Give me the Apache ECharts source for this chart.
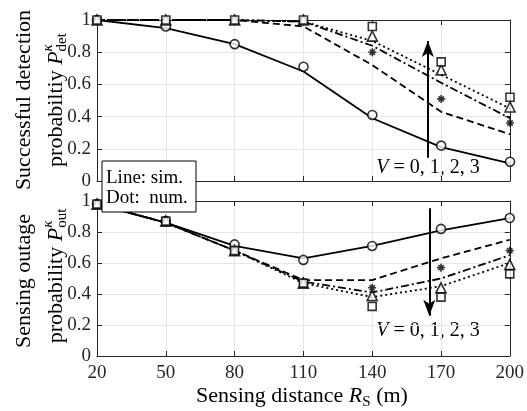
<!DOCTYPE html>
<html>
<head>
<meta charset="utf-8">
<script src="https://cdn.jsdelivr.net/npm/echarts@6/dist/echarts.min.js"></script>
<style>
  html, body { margin: 0; padding: 0; background: #fff; }
  #chart { width: 527px; height: 411px; }
</style>
</head>
<body>
<div id="chart"></div>
<script>
// sensing distance R_S (m)
var distances = [20, 50, 80, 110, 140, 170, 200];

// successful detection probability, lines = simulation, V = 0..3
var detSim0 = [1.00, 0.95, 0.85, 0.68, 0.39, 0.21, 0.11];
var detSim1 = [1.00, 1.00, 1.00, 0.96, 0.72, 0.43, 0.29];
var detSim2 = [1.00, 1.00, 1.00, 0.99, 0.84, 0.61, 0.39];
var detSim3 = [1.00, 1.00, 1.00, 0.99, 0.87, 0.66, 0.45];
// dots = numerical
var detNum0 = [1.00, 0.96, 0.85, 0.71, 0.41, 0.22, 0.12];
var detNum1 = [1.00, 1.00, 1.00, 0.99, 0.80, 0.51, 0.36];
var detNum2 = [1.00, 1.00, 1.00, 1.00, 0.90, 0.69, 0.46];
var detNum3 = [1.00, 1.00, 1.00, 1.00, 0.96, 0.74, 0.52];

// sensing outage probability
var outSim0 = [0.98, 0.86, 0.71, 0.63, 0.71, 0.81, 0.89];
var outSim1 = [0.98, 0.86, 0.68, 0.49, 0.49, 0.63, 0.75];
var outSim2 = [0.98, 0.86, 0.68, 0.48, 0.41, 0.50, 0.65];
var outSim3 = [0.98, 0.86, 0.68, 0.47, 0.38, 0.45, 0.60];
var outNum0 = [0.98, 0.87, 0.72, 0.62, 0.71, 0.82, 0.89];
var outNum1 = [0.98, 0.87, 0.68, 0.48, 0.44, 0.57, 0.68];
var outNum2 = [0.98, 0.87, 0.68, 0.47, 0.39, 0.44, 0.59];
var outNum3 = [0.98, 0.87, 0.68, 0.47, 0.32, 0.38, 0.53];

var yTicks = [0, 0.2, 0.4, 0.6, 0.8, 1];

var serif = '"Liberation Serif", "DejaVu Serif", serif';
var axisColor = '#262626';
var x0 = distances[0]; // x axis is shifted so that min is 0 (ticks every 30)

var lineTypes = ['solid', [7, 4], [8, 3, 2, 3], [2, 3]];
var asterisk = 'path://M4,0L6,0L6,10L4,10Z M0,4L10,4L10,6L0,6Z M1,2.4L2.4,1L9,7.6L7.6,9Z M7.6,1L9,2.4L2.4,9L1,7.6Z';
var markers = ['circle', asterisk, 'triangle', 'rect'];
var markerSizes = [9, 8, 10, 8];

function pairs(vals) {
  return vals.map(function (v, i) { return [distances[i] - x0, v]; });
}

function simLine(vals, v, g) {
  return {
    type: 'line', xAxisIndex: g, yAxisIndex: g, data: pairs(vals),
    symbol: 'none', silent: true, z: 3,
    lineStyle: { color: '#000', width: 1.8, type: lineTypes[v] }
  };
}

function numDots(vals, v, g) {
  return {
    type: 'scatter', xAxisIndex: g, yAxisIndex: g, data: pairs(vals),
    symbol: markers[v], symbolSize: markerSizes[v], silent: true, z: 4,
    itemStyle: {
      color: v === 1 ? '#000' : '#fff',
      borderColor: '#000',
      borderWidth: v === 1 ? 0 : 1.6
    }
  };
}

function xAxisFor(g, pos, labels) {
  return {
    type: 'value', gridIndex: g, position: pos, min: 0, max: 180, interval: 30,
    axisLine: { show: true, onZero: false, lineStyle: { color: axisColor, width: 1 } },
    axisTick: { show: true, inside: true, length: 5, lineStyle: { color: axisColor } },
    axisLabel: { show: labels, margin: 8, color: axisColor, fontFamily: serif, fontSize: 19,
      formatter: function (v) { return String(v + x0); } },
    splitLine: { show: pos === 'bottom', lineStyle: { color: '#e6e6e6', width: 1 } }
  };
}

function yAxisFor(g, pos) {
  return {
    type: 'value', gridIndex: g, position: pos, min: yTicks[0], max: yTicks[yTicks.length - 1], interval: 0.2,
    axisLine: { show: true, onZero: false, lineStyle: { color: axisColor, width: 1 } },
    axisTick: { show: true, inside: true, length: 5, lineStyle: { color: axisColor } },
    axisLabel: { show: pos === 'left', margin: 6, color: axisColor, fontFamily: serif, fontSize: 19 },
    splitLine: { show: pos === 'left', lineStyle: { color: '#e6e6e6', width: 1 } }
  };
}

// text measuring for the hand-set labels with sub/superscripts
var mctx = document.createElement('canvas').getContext('2d');
function tw(str, font) { mctx.font = font; return mctx.measureText(str).width; }

function fnt(size, italic) { return (italic ? 'italic ' : '') + size + 'px ' + serif; }

// parts: {t, size, italic, dy, stack}  stack=true -> same x as previous part
function textRow(cx, cy, parts, rotate) {
  var x = 0, lastX = 0, children = [];
  parts.forEach(function (p) {
    var f = fnt(p.size, p.italic);
    var w = tw(p.t, f);
    var px;
    if (p.stack) { px = lastX; x = Math.max(x, lastX + w); }
    else { px = x; lastX = x; x = x + w; }
    children.push({ type: 'text', x: px, y: p.dy || 0,
      style: { text: p.t, font: f, fill: '#000', textAlign: 'left', textVerticalAlign: 'middle' } });
  });
  children.forEach(function (c) { c.x -= x / 2; });
  return { type: 'group', x: cx, y: cy, rotation: rotate ? Math.PI / 2 : 0, children: children, z: 100 };
}

var graphics = [
  textRow(24, 100, [{ t: 'Successful detection', size: 22 }], true),
  textRow(56, 100, [
    { t: 'probabiltiy ', size: 22 },
    { t: 'P', size: 22, italic: true },
    { t: '\u03ba', size: 15, italic: true, dy: -8 },
    { t: 'det', size: 15, dy: 6, stack: true }
  ], true),
  textRow(24, 281, [{ t: 'Sensing outage', size: 22 }], true),
  textRow(56, 276, [
    { t: 'probability ', size: 22 },
    { t: 'P', size: 22, italic: true },
    { t: '\u03ba', size: 15, italic: true, dy: -8 },
    { t: 'out', size: 15, dy: 6, stack: true }
  ], true),
  textRow(302, 396, [
    { t: 'Sensing distance ', size: 22 },
    { t: 'R', size: 22, italic: true },
    { t: 'S', size: 15, dy: 6 },
    { t: ' (m)', size: 22 }
  ], false),
  textRow(428, 168, [{ t: 'V', size: 20, italic: true }, { t: ' = 0, 1, 2, 3', size: 20 }], false),
  textRow(428, 331, [{ t: 'V', size: 20, italic: true }, { t: ' = 0, 1, 2, 3', size: 20 }], false),
  {
    type: 'rect', z: 99, shape: { x: 102, y: 161, width: 94, height: 51 },
    style: { fill: '#fff', stroke: '#000', lineWidth: 1 }
  },
  { type: 'text', z: 100, x: 106, y: 178,
    style: { text: 'Line: sim.', font: fnt(19), fill: '#000', textAlign: 'left', textVerticalAlign: 'middle' } },
  { type: 'text', z: 100, x: 106, y: 198,
    style: { text: 'Dot:  num.', font: fnt(19), fill: '#000', textAlign: 'left', textVerticalAlign: 'middle' } }
];

function arrowLine(xVal, yFrom, yTo) {
  return {
    silent: true, animation: false,
    symbol: ['none', 'arrow'], symbolSize: [9, 16],
    lineStyle: { color: '#000', width: 2, type: 'solid' },
    label: { show: false },
    data: [[{ coord: [xVal - x0, yFrom] }, { coord: [xVal - x0, yTo] }]]
  };
}

var series = [
  simLine(detSim0, 0, 0), simLine(detSim1, 1, 0), simLine(detSim2, 2, 0), simLine(detSim3, 3, 0),
  numDots(detNum0, 0, 0), numDots(detNum1, 1, 0), numDots(detNum2, 2, 0), numDots(detNum3, 3, 0),
  simLine(outSim0, 0, 1), simLine(outSim1, 1, 1), simLine(outSim2, 2, 1), simLine(outSim3, 3, 1),
  numDots(outNum0, 0, 1), numDots(outNum1, 1, 1), numDots(outNum2, 2, 1), numDots(outNum3, 3, 1)
];
series[0].markLine = arrowLine(164.2, 0.145, 0.87);
series[8].markLine = arrowLine(164.9, 0.953, 0.26);

var chart = echarts.init(document.getElementById('chart'), null, { renderer: 'canvas' });
chart.setOption({
  animation: false,
  backgroundColor: '#fff',
  grid: [
    { left: 97, top: 20, width: 413, height: 161 },
    { left: 97, top: 201, width: 413, height: 155 }
  ],
  xAxis: [xAxisFor(0, 'bottom', false), xAxisFor(1, 'bottom', true), xAxisFor(0, 'top', false), xAxisFor(1, 'top', false)],
  yAxis: [yAxisFor(0, 'left'), yAxisFor(1, 'left'), yAxisFor(0, 'right'), yAxisFor(1, 'right')],
  series: series,
  graphic: graphics
});
</script>
</body>
</html>
